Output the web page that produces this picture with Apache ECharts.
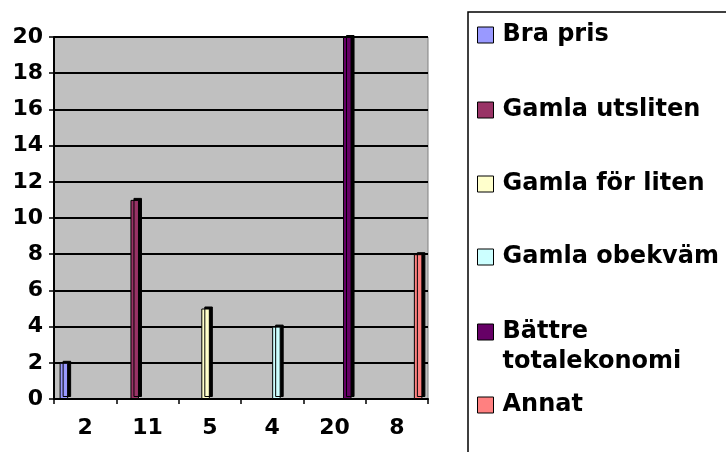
<!DOCTYPE html>
<html style="height: 100%">
   <head>
       <meta charset="utf-8">
   </head>
   <body style="width:726px;height:452px; margin: 0">
        <div id="container" style="width:726px;height:452px;"></div>
       <script type="text/javascript" src="https://cdn.jsdelivr.net/npm/echarts@6/dist/echarts.min.js"></script>

<script type="text/javascript">
	// categories on the x axis (the answer counts themselves)
	var categories = ['2', '11', '5', '4', '20', '8'];
	var seriesNames = ['Bra pris', 'Gamla utsliten', 'Gamla för liten', 'Gamla obekväm', 'Bättre totalekonomi', 'Annat'];
	var seriesValues = [2, 11, 5, 4, 20, 8];
	var seriesColors = ['#9999ff', '#993366', '#ffffcc', '#ccffff', '#660066', '#ff8080'];
	// centre of each legend icon, px from top
	var legendCenters = [35, 110, 184, 257, 332, 405];

	var font = 'DejaVu Sans';
	var dom = document.getElementById("container");
	var myChart = echarts.init(dom);

	var series = [];
	var legends = [];
	for (var i = 0; i < seriesNames.length; i++) {
		var d = [];
		for (var j = 0; j < categories.length; j++) {
			d.push(j === i ? seriesValues[i] : '-');
		}
		series.push({
			type: 'bar',
			name: seriesNames[i],
			data: d,
			barGap: '0%',
			barCategoryGap: '18%',
			itemStyle: {
				color: seriesColors[i],
				borderColor: '#000',
				borderWidth: 1,
				shadowColor: '#000',
				shadowOffsetX: 3,
				shadowOffsetY: -2,
				shadowBlur: 0
			}
		});
		var twoLines = seriesNames[i] === 'Bättre totalekonomi';
		legends.push({
			data: [seriesNames[i]],
			orient: 'vertical',
			left: 477,
			top: legendCenters[i] - (twoLines ? 45 : 15),
			padding: 0,
			itemWidth: 16,
			itemHeight: 16,
			icon: 'rect',
			selectedMode: false,
			formatter: twoLines ? function () { return '\nBättre\ntotalekonomi'; } : '{name}',
			itemStyle: {
				borderColor: '#000',
				borderWidth: 1,
				shadowBlur: 0,
				shadowOffsetX: 0,
				shadowOffsetY: 0,
				shadowColor: 'rgba(0,0,0,0)'
			},
			textStyle: {
				fontFamily: font,
				fontWeight: 'bold',
				fontSize: 24,
				lineHeight: 30,
				color: '#000',
				padding: [0, 0, 0, 4]
			}
		});
	}

	var option = {
		backgroundColor: '#fff',
		animation: false,
		legend: legends,
		graphic: [{
			type: 'rect',
			shape: { x: 468, y: 12, width: 300, height: 500 },
			style: { fill: 'none', stroke: '#000', lineWidth: 1.5 },
			silent: true
		}],
		grid: {
			left: 54,
			top: 37,
			right: 298,
			bottom: 53,
			show: true,
			backgroundColor: '#c0c0c0',
			borderColor: '#808080',
			borderWidth: 1
		},
		xAxis: {
			type: 'category',
			data: categories,
			axisLine: { lineStyle: { color: '#000', width: 2 } },
			axisTick: { show: true, length: 5, lineStyle: { color: '#000', width: 1.5 } },
			axisLabel: {
				margin: 18,
				color: '#000',
				fontFamily: font,
				fontWeight: 'bold',
				fontSize: 22
			}
		},
		yAxis: {
			type: 'value',
			min: 0,
			max: 20,
			interval: 2,
			axisLine: { show: true, lineStyle: { color: '#000', width: 2 } },
			axisTick: { show: true, length: 5, lineStyle: { color: '#000', width: 1.5 } },
			splitLine: { lineStyle: { color: '#000', width: 2 } },
			axisLabel: {
				margin: 11,
				color: '#000',
				fontFamily: font,
				fontWeight: 'bold',
				fontSize: 22
			}
		},
		series: series
	};

	myChart.setOption(option);
</script>

   </body>
</html>
